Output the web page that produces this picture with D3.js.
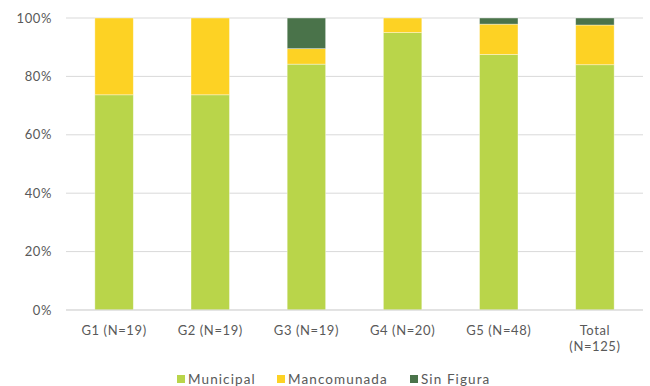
<!DOCTYPE html>
<html><head><meta charset="utf-8">
<script src="https://cdn.jsdelivr.net/npm/d3@7"></script>
<style>
body{margin:0;background:#fff;}
text{font-family:Lato,"Open Sans",sans-serif;fill:#595959;}
</style></head>
<body><svg id="c" width="650" height="386"></svg>
<script>
const categories = ["G1 (N=19)","G2 (N=19)","G3 (N=19)","G4 (N=20)","G5 (N=48)","Total (N=125)"];
const municipal   = [73.7, 73.7, 84.2, 95.0, 87.5, 84.0];
const mancomunada = [26.3, 26.3, 5.3, 5.0, 10.4, 13.6];
const sinFigura   = [0.0, 0.0, 10.5, 0.0, 2.1, 2.4];
const seriesNames = ["Municipal","Mancomunada","Sin Figura"];
const colors = ["#B9D54A","#FDD224","#4A734A"];
const yTicks = [0,20,40,60,80,100];

const svg = d3.select("#c");
const m = {l:66, r:7, t:18, b:76};
const W = 650, H = 386;
const x = d3.scaleBand().domain(categories).range([m.l, W-m.r]).paddingInner(0.6).paddingOuter(0.3);
const y = d3.scaleLinear().domain([0,100]).range([H-m.b, m.t]);

const g = svg.append("g");
g.selectAll("line.grid").data(yTicks).join("line")
  .attr("x1", m.l).attr("x2", W-m.r)
  .attr("y1", d=>y(d)).attr("y2", d=>y(d))
  .attr("stroke", "#d9d9d9").attr("stroke-width", 1);

const yAxis = d3.axisLeft(y).tickValues(yTicks).tickFormat(d=>d+"%").tickSize(0).tickPadding(14);
const ya = svg.append("g").attr("transform",`translate(${m.l},0)`).call(yAxis);
ya.select(".domain").remove();
ya.selectAll("text").attr("font-size",13).style("font-family","Lato,'Open Sans',sans-serif")
  .style("letter-spacing","0.6px").attr("fill","#595959");

const data = categories.map((c,i)=>({cat:c, Municipal:municipal[i], Mancomunada:mancomunada[i], "Sin Figura":sinFigura[i]}));
const stacked = d3.stack().keys(seriesNames)(data);
svg.append("g").selectAll("g").data(stacked).join("g")
  .attr("fill",(d,i)=>colors[i])
  .selectAll("rect").data(d=>d).join("rect")
  .attr("x", d=>x(d.data.cat)).attr("width", x.bandwidth())
  .attr("y", d=>y(d[1])).attr("height", d=>Math.max(0,y(d[0])-y(d[1])))
  .attr("stroke","#fff").attr("stroke-opacity",0.5).attr("stroke-width",0.75);

const xa = svg.append("g").attr("transform",`translate(0,${H-m.b})`)
  .call(d3.axisBottom(x).tickSize(0).tickPadding(16));
xa.select(".domain").remove();
xa.selectAll("text").attr("font-size",13).attr("fill","#595959").style("font-family","Lato,'Open Sans',sans-serif")
  .style("letter-spacing","0.6px")
  .each(function(d){
    if(d.startsWith("Total")){
      const t=d3.select(this); t.text(null);
      t.append("tspan").attr("x",0).attr("dy","0.71em").text("Total");
      t.append("tspan").attr("x",0).attr("dy","1.25em").text("(N=125)");
      t.attr("dy",null);
    }
  });
svg.append("line").attr("x1",m.l).attr("x2",W-m.r).attr("y1",y(0)).attr("y2",y(0)).attr("stroke","#d9d9d9");

const legX = [177, 277, 410];
const leg = svg.append("g").selectAll("g").data(seriesNames).join("g")
  .attr("transform",(d,i)=>`translate(${legX[i]},384)`);
leg.append("rect").attr("x",0).attr("y",-9).attr("width",8).attr("height",8).attr("fill",(d,i)=>colors[i]);
leg.append("text").attr("x",11).attr("y",0).attr("font-size",13.5)
  .style("letter-spacing","1.1px").text(d=>d);
</script></body></html>
